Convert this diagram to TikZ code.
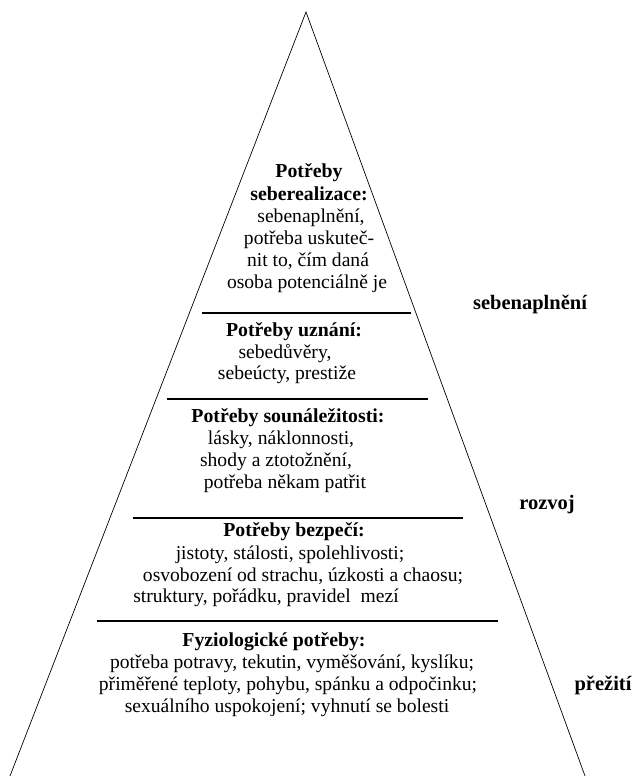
\documentclass[tikz,border=0pt]{standalone}
\usepackage{fontspec}
\setmainfont{Liberation Serif}
\begin{document}
\begin{tikzpicture}[x=1pt,y=-1pt,
      txt/.style={
         inner sep=0pt,
         text height=12pt,
         text depth=4pt,
         font=\fontsize{19.6}{21.7}\selectfont
      },
      head/.style={txt,font=\fontsize{19.8}{21.7}\selectfont\bfseries},
      side/.style={txt,font=\fontsize{20.5}{21.7}\selectfont\bfseries},
      sep/.style={line width=1.3pt},
      edge/.style={line width=0.7pt}
    ]
    \useasboundingbox (0,0) rectangle (632,776);
    % pyramid outline
    \coordinate (apex) at (306,12);
    \coordinate (bl) at (10,776);
    \coordinate (br) at (585,776);
    \draw[edge] (bl) -- (apex) -- (br);
    % separators
    \draw[sep] (202,313) -- (411,313);
    \draw[sep] (167,399) -- (428,399);
    \draw[sep] (133,518) -- (463,518);
    \draw[sep] (97,621) -- (498,621);
    % seberealizace
    \node[head] (s1) at (309,173) {Potřeby};
    \node[head] (s2) at (309,196) {seberealizace:};
    \node[txt]  (s3) at (311,218) {sebenaplnění,};
    \node[txt]  (s4) at (309,240) {potřeba uskuteč-};
    \node[txt]  (s5) at (308,262) {nit to, čím daná};
    \node[txt]  (s6) at (307,284) {osoba potenciálně je};
    % uznani
    \node[head] (u1) at (294,332) {Potřeby uznání:};
    \node[txt]  (u2) at (285,354) {sebedůvěry,};
    \node[txt]  (u3) at (287,375) {sebeúcty, prestiže};
    % sounalezitost
    \node[head] (n1) at (288,418) {Potřeby sounáležitosti:};
    \node[txt]  (n2) at (281,440) {lásky, náklonnosti,};
    \node[txt]  (n3) at (276,462) {shody a ztotožnění,};
    \node[txt]  (n4) at (285,484) {potřeba někam patřit};
    % bezpeci
    \node[head] (b1) at (294,532) {Potřeby bezpečí:};
    \node[txt]  (b2) at (290,555) {jistoty, stálosti, spolehlivosti;};
    \node[txt]  (b3) at (303,577) {osvobození od strachu, úzkosti a chaosu;};
    \node[txt]  (b4) at (266,598) {struktury, pořádku, pravidel\ \ mezí};
    % fyziologicke
    \node[head] (f1) at (274,642) {Fyziologické potřeby:};
    \node[txt]  (f2) at (292,664) {potřeba potravy, tekutin, vyměšování, kyslíku;};
    \node[txt]  (f3) at (288,686) {přiměřené teploty, pohybu, spánku a odpočinku;};
    \node[txt]  (f4) at (287,708) {sexuálního uspokojení; vyhnutí se bolesti};
    % right side
    \node[side] (r1) at (530,305) {sebenaplnění};
    \node[side] (r2) at (547,505) {rozvoj};
    \node[side] (r3) at (603,686) {přežití};
\end{tikzpicture}
\end{document}
